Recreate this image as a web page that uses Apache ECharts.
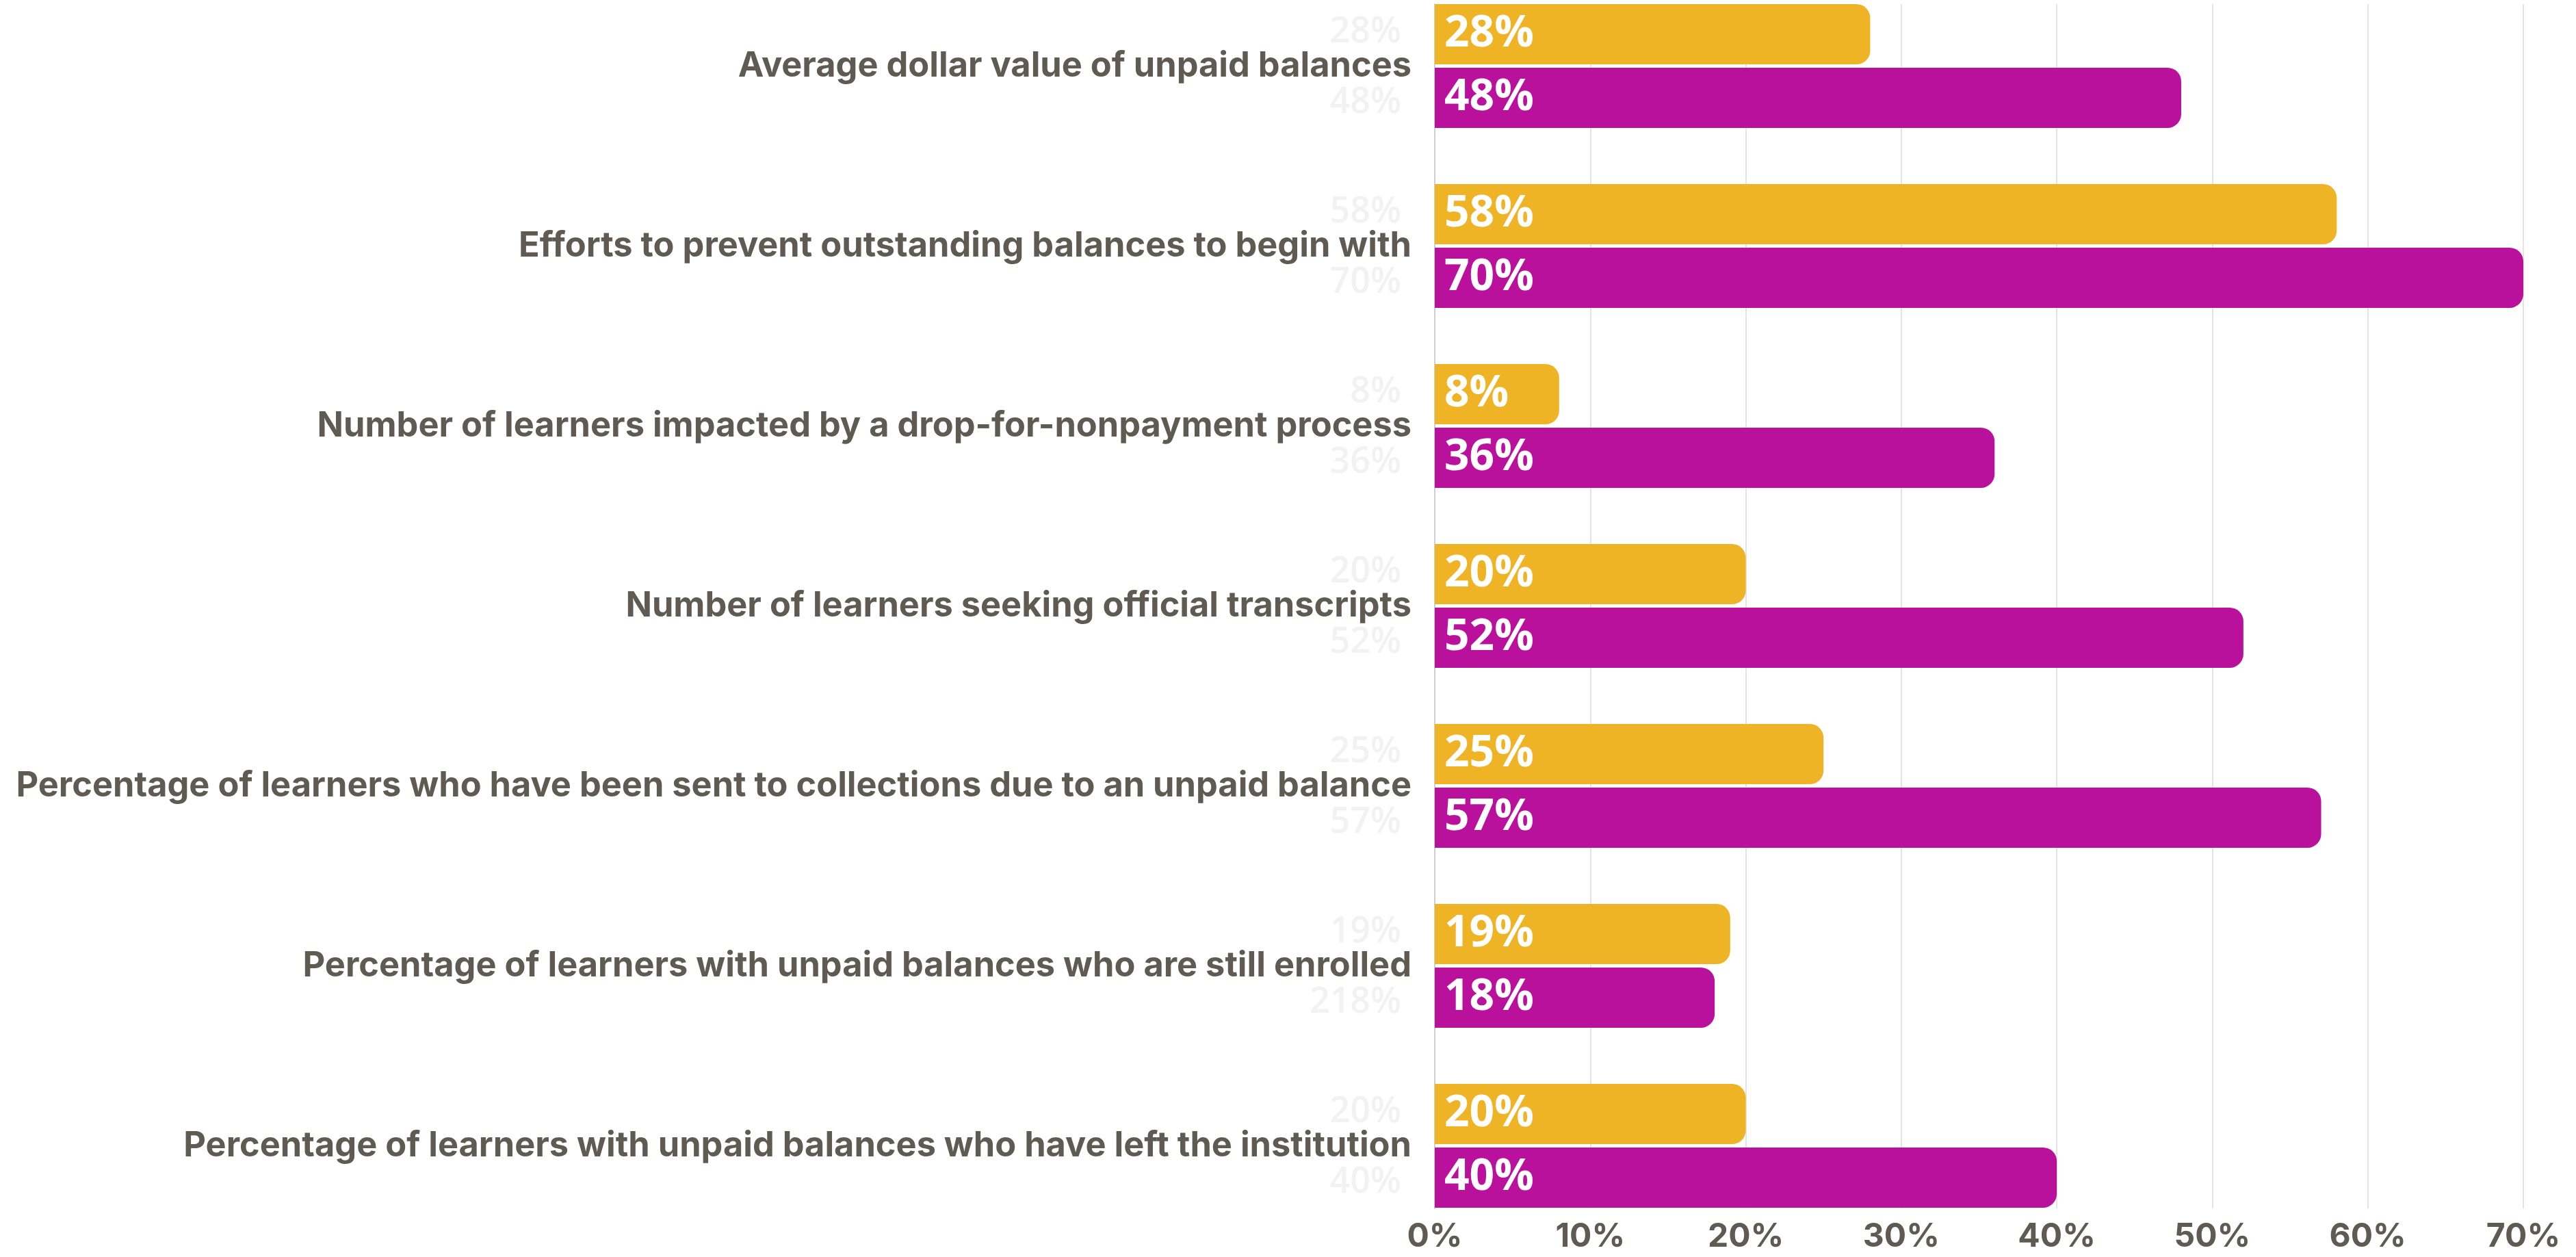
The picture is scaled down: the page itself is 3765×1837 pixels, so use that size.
<!DOCTYPE html>
<html>
<head>
<meta charset="utf-8">
<script src="https://cdn.jsdelivr.net/npm/echarts@6/dist/echarts.min.js"></script>
<style>
  html, body { margin: 0; padding: 0; background: #ffffff; }
  #chart { width: 3765px; height: 1837px; }
</style>
</head>
<body>
<div id="chart"></div>
<script>
const categories = [
  'Average dollar value of unpaid balances',
  'Efforts to prevent outstanding balances to begin with',
  'Number of learners impacted by a drop-for-nonpayment process',
  'Number of learners seeking official transcripts',
  'Percentage of learners who have been sent to collections due to an unpaid balance',
  'Percentage of learners with unpaid balances who are still enrolled',
  'Percentage of learners with unpaid balances who have left the institution'
];
const valuesYellow = [28, 58, 8, 20, 25, 19, 20];
const valuesMagenta = [48, 70, 36, 52, 57, 18, 40];
const ghostYellow = ['28%', '58%', '8%', '20%', '25%', '19%', '20%'];
const ghostMagenta = ['48%', '70%', '36%', '52%', '57%', '218%', '40%'];
const axisMin = 0;
const axisMax = 70;
const axisInterval = 10;

const YELLOW = '#EFB426';
const MAGENTA = '#BA119C';
const TEXT = '#5F5B52';
const GHOST = '#F2F2F2';

const chart = echarts.init(document.getElementById('chart'), null, { renderer: 'canvas' });

const barWidth = 88;
const barGap = '5.5%';

function mainSeries(name, data, color) {
  return {
    name: name,
    type: 'bar',
    xAxisIndex: 0,
    yAxisIndex: 0,
    data: data,
    barWidth: barWidth,
    barGap: barGap,
    itemStyle: { color: color, borderRadius: [0, 20, 20, 0] },
    label: {
      show: true,
      position: 'insideLeft',
      distance: 14,
      formatter: '{c}%',
      color: '#ffffff',
      fontFamily: 'Open Sans',
      fontWeight: 700,
      fontSize: 64
    },
    z: 3
  };
}

function ghostSeries(name, data, texts, dy) {
  return {
    name: name,
    type: 'bar',
    xAxisIndex: 0,
    yAxisIndex: 1,
    data: data,
    barWidth: barWidth,
    barGap: barGap,
    silent: true,
    itemStyle: { color: 'rgba(0,0,0,0)' },
    label: {
      show: true,
      position: 'left',
      distance: 49,
      offset: [0, dy],
      formatter: function (p) { return texts[p.dataIndex]; },
      color: GHOST,
      fontFamily: 'Open Sans',
      fontWeight: 600,
      fontSize: 52
    },
    z: 1
  };
}

const option = {
  backgroundColor: '#ffffff',
  animation: false,
  grid: [
    { left: 2097, right: 77, top: -35, height: 1841, containLabel: false, outerBoundsMode: 'none' },
    { left: 2097, right: 77, top: 6, bottom: 71, containLabel: false, outerBoundsMode: 'none' }
  ],
  xAxis: [
    {
      gridIndex: 0, type: 'value', min: axisMin, max: axisMax, interval: axisInterval,
      show: false
    },
    {
      gridIndex: 1, type: 'value', min: axisMin, max: axisMax, interval: axisInterval,
      axisLine: { show: false },
      axisTick: { show: false },
      splitLine: { show: true, lineStyle: { color: '#E4E4E4', width: 2 } },
      axisLabel: {
        formatter: '{value}%',
        color: TEXT,
        fontFamily: 'Inter',
        fontWeight: 700,
        fontSize: 48,
        margin: 18
      }
    }
  ],
  yAxis: [
    {
      gridIndex: 0, type: 'category', data: categories, inverse: true,
      axisLine: { show: false },
      axisTick: { show: false },
      splitLine: { show: false },
      axisLabel: {
        color: TEXT,
        fontFamily: 'Inter',
        fontWeight: 700,
        fontSize: 50.5,
        margin: 34
      }
    },
    {
      gridIndex: 0, type: 'category', data: categories, inverse: true,
      show: false
    },
    {
      gridIndex: 1, type: 'value', min: 0, max: 1,
      axisLine: { show: true, lineStyle: { color: '#D0D0D0', width: 2 } },
      axisTick: { show: false },
      axisLabel: { show: false },
      splitLine: { show: false }
    }
  ],
  series: [
    ghostSeries('Yellow ghost', valuesYellow, ghostYellow, -3),
    ghostSeries('Magenta ghost', valuesMagenta, ghostMagenta, 7),
    mainSeries('Yellow', valuesYellow, YELLOW),
    mainSeries('Magenta', valuesMagenta, MAGENTA)
  ]
};

chart.setOption(option);
</script>
</body>
</html>
